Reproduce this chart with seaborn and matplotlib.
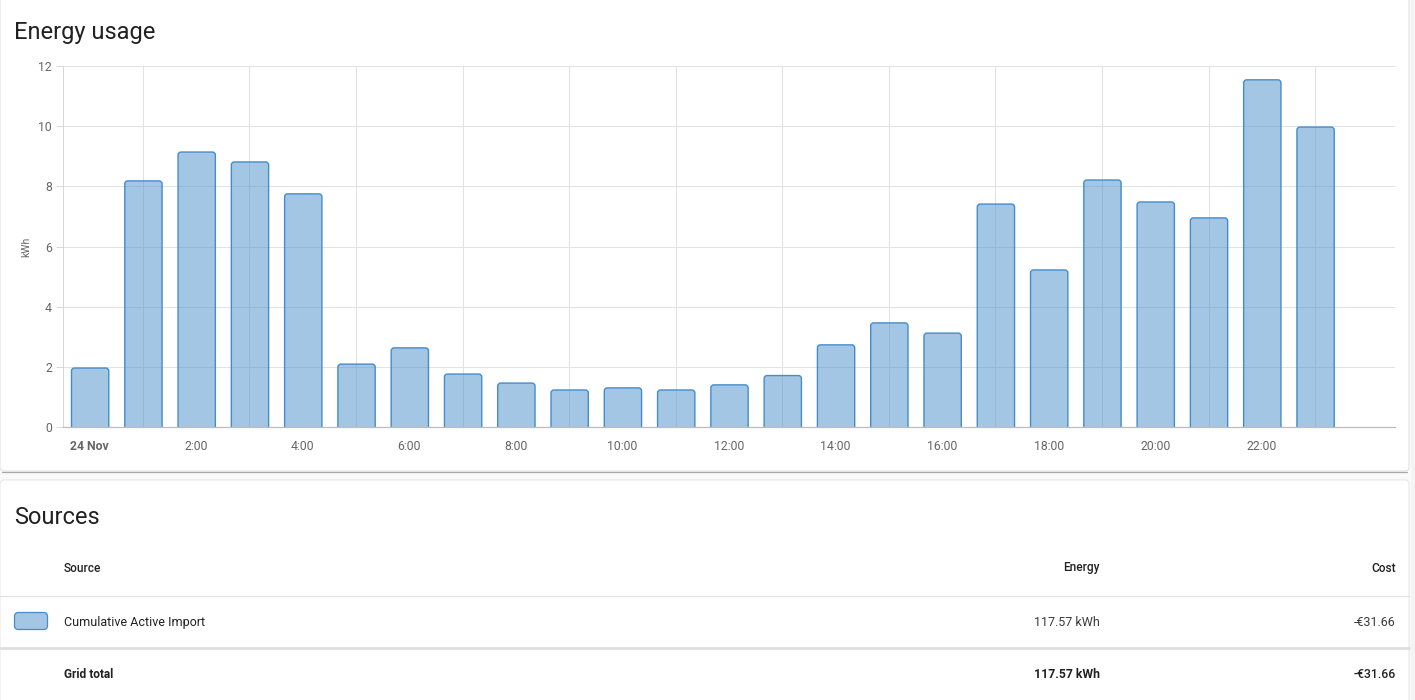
import matplotlib
matplotlib.use("Agg")
import matplotlib.pyplot as plt
import seaborn as sns
import pandas as pd
from matplotlib.patches import FancyBboxPatch

# hourly energy usage, 24 Nov
hours = list(range(24))
energy_kwh = [1.96, 8.18, 9.14, 8.81, 7.75, 2.09, 2.63, 1.76, 1.46, 1.23, 1.30, 1.23,
              1.40, 1.71, 2.73, 3.46, 3.12, 7.41, 5.22, 8.21, 7.48, 6.95, 11.54, 9.97]
tick_hours = list(range(0, 24, 2))
tick_labels = ["24 Nov"] + [f"{h}:00" for h in range(2, 24, 2)]
y_ticks = [0, 2, 4, 6, 8, 10, 12]

# sources table
table_headers = ["Source", "Energy", "Cost"]
source_names = ["Cumulative Active Import"]
source_energy = ["117.57 kWh"]
source_cost = ["-€31.66"]
total_label = "Grid total"
total_energy = "117.57 kWh"
total_cost = "-€31.66"

W, H = 1415, 700
FILL = (0.29, 0.56, 0.80, 0.5)
EDGE = "#448ccb"
TXT = "#212121"
TICK = "#666666"
GRID = "#e2e2e2"

sns.set_theme(style="white")
plt.rcParams["font.family"] = ["Roboto", "DejaVu Sans"]

fig = plt.figure(figsize=(W / 100, H / 100), dpi=100, facecolor="#f4f4f4")

# page background with the two cards, drawn in pixel coordinates
bg = fig.add_axes([0, 0, 1, 1])
bg.set_xlim(0, W)
bg.set_ylim(H, 0)
bg.axis("off")
bg.add_patch(plt.Rectangle((0, 0), 1411, H, facecolor="#fafafa", edgecolor="none"))
bg.add_patch(FancyBboxPatch((0, -6), 1409, 477, boxstyle="round,pad=0,rounding_size=4",
                            facecolor="white", edgecolor="#e4e4e4", linewidth=0.8))
bg.plot([2, 1407], [471.5, 471.5], color="#a8a8a8", linewidth=0.9)
bg.add_patch(FancyBboxPatch((0, 480), 1409, 240, boxstyle="round,pad=0,rounding_size=4",
                            facecolor="white", edgecolor="#e8e8e8", linewidth=0.8))

bg.text(14, 33, "Energy usage", fontsize=17, color=TXT, ha="left", va="center")
bg.text(14, 517, "Sources", fontsize=17, color=TXT, ha="left", va="center")

# table
bg.text(64, 568, table_headers[0], fontsize=8.6, weight="medium", color=TXT, ha="left", va="center")
bg.text(1100, 568, table_headers[1], fontsize=8.6, weight="medium", color=TXT, ha="right", va="center")
bg.text(1396, 568, table_headers[2], fontsize=8.6, weight="medium", color=TXT, ha="right", va="center")
bg.plot([0, 1409], [595.5, 595.5], color="#e0e0e0", linewidth=0.8)

for i, name in enumerate(source_names):
    yc = 622.5 + i * 52
    bg.add_patch(FancyBboxPatch((14.5, yc - 10), 33, 17, boxstyle="round,pad=0,rounding_size=4",
                                facecolor=FILL, edgecolor=EDGE, linewidth=0.9))
    bg.text(64, yc, name, fontsize=9, color=TXT, ha="left", va="center")
    bg.text(1100, yc, source_energy[i], fontsize=9, color="#3a3a3a", ha="right", va="center")
    bg.text(1396, yc, source_cost[i], fontsize=9, color="#3a3a3a", ha="right", va="center")

bg.plot([0, 1409], [648, 648], color="#dedede", linewidth=2)
bg.text(64, 675, total_label, fontsize=8.6, weight="bold", color=TXT, ha="left", va="center")
bg.text(1100, 675, total_energy, fontsize=8.8, weight="bold", color=TXT, ha="right", va="center")
bg.text(1396, 675, total_cost, fontsize=8.8, weight="medium", color=TXT, ha="right", va="center")

# chart
left, right, top, bottom = 63, 1395, 66, 427
ax = fig.add_axes([left / W, (H - bottom) / H, (right - left) / W, (bottom - top) / H])
ax.patch.set_alpha(0)

df = pd.DataFrame({"hour": hours, "kwh": energy_kwh})
sns.barplot(data=df, x="hour", y="kwh", width=0.7, color=EDGE, saturation=1,
            linewidth=1, edgecolor=EDGE, ax=ax, zorder=3)

ax.set_xlim(-0.5, 24.5)
ax.set_ylim(0, 12)

# swap the square bars for ones with slightly rounded tops
px_x = 25 / (right - left)
px_y = 12 / (bottom - top)
for bar in list(ax.patches):
    x0, w, h = bar.get_x(), bar.get_width(), bar.get_height()
    bar.remove()
    ax.add_patch(FancyBboxPatch((x0 + 0.5 * px_x, -4 * px_y), w, h + 4 * px_y,
                                boxstyle=f"round,pad=0,rounding_size={3 * px_x}",
                                mutation_aspect=px_y / px_x, facecolor=FILL,
                                edgecolor=EDGE, linewidth=1, zorder=3))

ax.set_yticks(y_ticks)
ax.set_yticklabels([str(v) for v in y_ticks])

ax.set_xticks(list(range(1, 24, 2)))
ax.set_xticklabels([])
ax.set_xticks(tick_hours, minor=True)
ax.set_xticklabels(tick_labels, minor=True)
ax.tick_params(axis="x", which="major", length=6, width=0.7, color="#d8d8d8", direction="out")
ax.tick_params(axis="x", which="minor", length=0, pad=9, labelsize=8.8, labelcolor=TICK)
ax.tick_params(axis="y", length=5, width=0.7, color="#d8d8d8", pad=3, labelsize=8.8,
               labelcolor=TICK, left=True)
for lbl in ax.get_xticklabels(minor=True):
    if lbl.get_text() == "24 Nov":
        lbl.set_fontweight("bold")

ax.grid(True, axis="y", color=GRID, linewidth=0.75)
ax.grid(True, axis="x", which="major", color=GRID, linewidth=0.75)
ax.set_axisbelow(True)

for side in ["top", "right"]:
    ax.spines[side].set_visible(False)
ax.spines["left"].set_color("#d8d8d8")
ax.spines["left"].set_linewidth(0.75)
ax.spines["bottom"].set_color("#bdbdbd")
ax.spines["bottom"].set_linewidth(0.9)
ax.spines["bottom"].set_zorder(4)

ax.set_xlabel("")
ax.set_ylabel("kWh", fontsize=7.5, color=TICK)
ax.yaxis.set_label_coords(-0.0235, 0.5)

fig.savefig("out.png", dpi=100, facecolor=fig.get_facecolor())
